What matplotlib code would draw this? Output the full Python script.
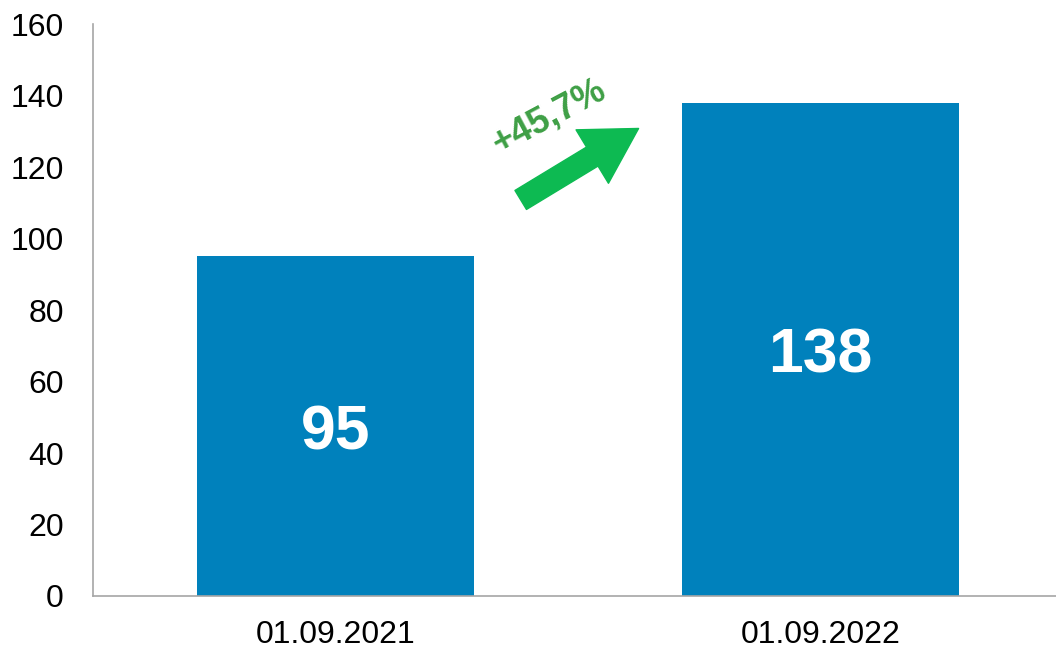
import matplotlib.pyplot as plt
from matplotlib.patches import FancyArrowPatch

plt.rcParams['font.family'] = ['Liberation Sans', 'DejaVu Sans']

dates = ['01.09.2021', '01.09.2022']
values = [95, 138]
yticks = [0, 20, 40, 60, 80, 100, 120, 140, 160]
growth = '+45,7%'

fig = plt.figure(figsize=(10.56, 6.51), dpi=100)
ax = fig.add_axes([0.088, 0.0845, 0.912, 0.8785])

x = range(len(dates))
ax.bar(x, values, width=0.571, color='#0081BC')
for i, v in zip(x, values):
    ax.annotate(str(v), (i, v / 2), xytext=(0, -5), textcoords='offset points',
                ha='center', va='center', color='white',
                fontsize=45, fontweight='bold')

ax.set_xlim(-0.5, 1.4856)
ax.set_ylim(0, 160)
ax.set_yticks(yticks)
ax.set_xticks(list(x))
ax.set_xticklabels(dates)
ax.tick_params(axis='both', length=0, labelsize=23)
ax.tick_params(axis='y', pad=21)
ax.tick_params(axis='x', pad=17)
for s in ['top', 'right']:
    ax.spines[s].set_visible(False)
for s in ['left', 'bottom']:
    ax.spines[s].set_color('#a6a6a6')
    ax.spines[s].set_linewidth(1.2)

# growth arrow
arr = FancyArrowPatch((0.382, 110.8), (0.625, 130.8),
                      arrowstyle='simple,head_length=39,head_width=45,tail_width=16',
                      mutation_scale=1, color='#0DBA52', shrinkA=0, shrinkB=0)
ax.add_patch(arr)
ax.text(0.440, 134.0, growth, rotation=28, ha='center', va='center',
        color='#3E9F45', fontsize=26, fontweight='bold')

fig.savefig('out.png', dpi=100)
